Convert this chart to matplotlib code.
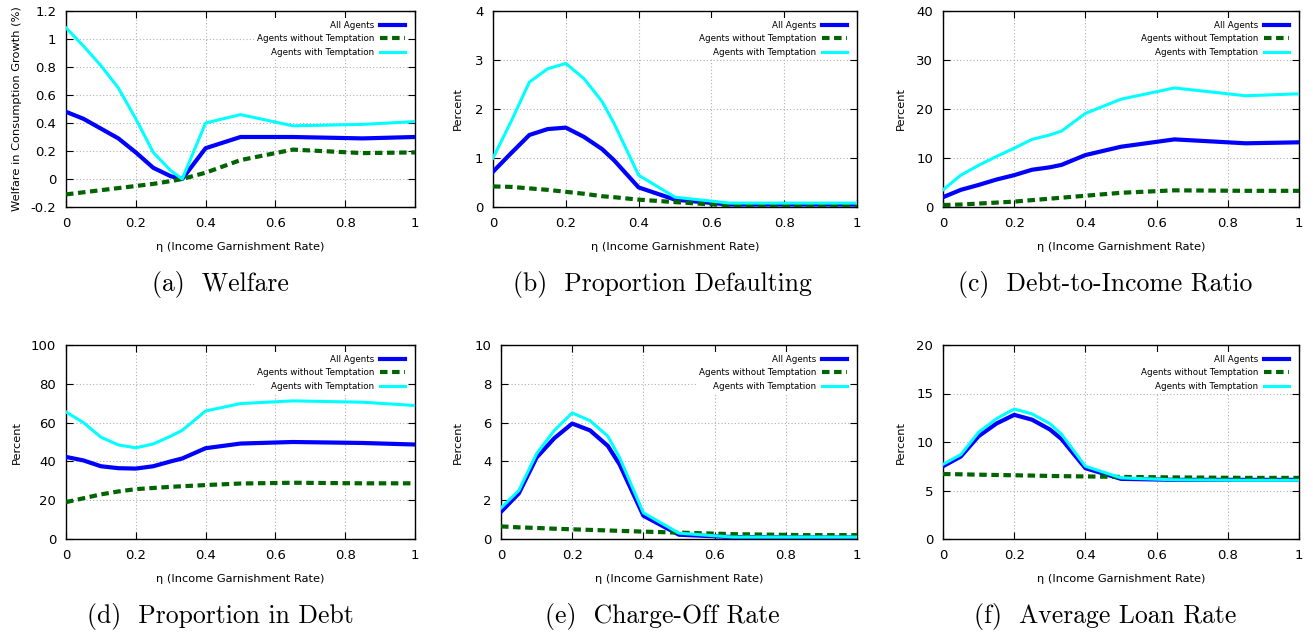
import matplotlib
matplotlib.use("Agg")
import matplotlib.pyplot as plt
from matplotlib.ticker import FormatStrFormatter, MultipleLocator

# garnishment rates on the x axis
eta = [0, 0.05, 0.1, 0.15, 0.2, 0.25, 0.3, 0.333, 0.4, 0.5, 0.65, 0.85, 1.0]

# (a) welfare
welfare_all = [0.48, 0.43, 0.36, 0.29, 0.19, 0.08, 0.02, 0.0, 0.22, 0.30, 0.30, 0.29, 0.30]
welfare_no = [-0.11, -0.095, -0.08, -0.065, -0.05, -0.035, -0.015, 0.0, 0.045, 0.135, 0.21, 0.185, 0.19]
welfare_tempt = [1.08, 0.95, 0.81, 0.65, 0.43, 0.19, 0.06, 0.0, 0.40, 0.46, 0.38, 0.39, 0.41]

# (b) proportion defaulting
default_all = [0.72, 1.1, 1.47, 1.59, 1.62, 1.43, 1.18, 0.95, 0.40, 0.15, 0.05, 0.05, 0.05]
default_no = [0.42, 0.41, 0.38, 0.35, 0.31, 0.27, 0.22, 0.2, 0.15, 0.1, 0.03, 0.03, 0.03]
default_tempt = [1.0, 1.75, 2.55, 2.82, 2.93, 2.62, 2.15, 1.7, 0.65, 0.2, 0.08, 0.08, 0.08]

# (c) debt-to-income ratio
dti_all = [2.0, 3.5, 4.5, 5.6, 6.5, 7.6, 8.1, 8.6, 10.6, 12.3, 13.8, 13.0, 13.2]
dti_no = [0.4, 0.5, 0.7, 0.9, 1.1, 1.4, 1.7, 1.9, 2.3, 2.9, 3.4, 3.3, 3.3]
dti_tempt = [3.5, 6.5, 8.5, 10.3, 12.0, 13.8, 14.7, 15.5, 19.1, 22.0, 24.3, 22.7, 23.1]

# (d) proportion in debt
debt_all = [42.3, 40.5, 37.5, 36.5, 36.3, 37.5, 40.0, 41.5, 46.8, 49.2, 50.0, 49.5, 48.7]
debt_no = [19.0, 21.0, 23.0, 24.5, 25.7, 26.3, 26.9, 27.2, 27.8, 28.6, 29.0, 28.7, 28.7]
debt_tempt = [65.5, 60.0, 52.5, 48.5, 47.0, 49.0, 53.0, 56.0, 66.0, 69.8, 71.2, 70.5, 68.8]

# (e) charge-off rate
co_all = [1.4, 2.35, 4.2, 5.2, 5.95, 5.6, 4.8, 3.85, 1.2, 0.22, 0.1, 0.08, 0.08]
co_no = [0.65, 0.6, 0.57, 0.53, 0.5, 0.47, 0.44, 0.42, 0.38, 0.33, 0.25, 0.2, 0.2]
co_tempt = [1.6, 2.5, 4.4, 5.6, 6.5, 6.1, 5.3, 4.2, 1.35, 0.3, 0.1, 0.1, 0.1]

# (f) average loan rate
rate_all = [7.5, 8.5, 10.6, 11.9, 12.8, 12.3, 11.3, 10.3, 7.3, 6.2, 6.1, 6.1, 6.1]
rate_no = [6.7, 6.67, 6.63, 6.6, 6.57, 6.54, 6.5, 6.48, 6.45, 6.4, 6.35, 6.3, 6.3]
rate_tempt = [7.7, 8.7, 11.0, 12.4, 13.4, 12.9, 11.9, 10.8, 7.5, 6.3, 6.1, 6.05, 6.05]

labels = ["All Agents", "Agents without Temptation", "Agents with Temptation"]

panels = [
    ("(a)  Welfare", "Welfare in Consumption Growth (%)", (-0.2, 1.2), 0.2,
     welfare_all, welfare_no, welfare_tempt),
    ("(b)  Proportion Defaulting", "Percent", (0, 4), 1,
     default_all, default_no, default_tempt),
    ("(c)  Debt-to-Income Ratio", "Percent", (0, 40), 10,
     dti_all, dti_no, dti_tempt),
    ("(d)  Proportion in Debt", "Percent", (0, 100), 20,
     debt_all, debt_no, debt_tempt),
    ("(e)  Charge-Off Rate", "Percent", (0, 10), 2,
     co_all, co_no, co_tempt),
    ("(f)  Average Loan Rate", "Percent", (0, 20), 5,
     rate_all, rate_no, rate_tempt),
]

W, H = 1313, 637
# axes boxes in pixels: left, right, top, bottom
boxes = [
    (66, 415, 11, 207), (493, 857, 11, 207), (943, 1299, 11, 207),
    (66, 415, 345, 539), (501, 857, 345, 539), (943, 1299, 345, 539),
]
ylabel_x = [17, 458, 901, 17, 458, 901]
caption_x = [220, 662, 1105, 220, 662, 1105]
caption_y = [285, 285, 285, 617, 617, 617]

fig = plt.figure(figsize=(W / 100, H / 100), dpi=100)

for i, (cap, ylab, ylim, ystep, y_all, y_no, y_tempt) in enumerate(panels):
    l, r, t, b = boxes[i]
    ax = fig.add_axes([l / W, 1 - b / H, (r - l) / W, (b - t) / H])
    ax.plot(eta, y_all, color="#0000ff", lw=3.0, label=labels[0], zorder=3)
    ax.plot(eta, y_no, color="#006400", lw=3.0, dashes=(1.8, 1.1), label=labels[1], zorder=3)
    ax.plot(eta, y_tempt, color="#00ffff", lw=2.2, label=labels[2], zorder=3)
    ax.set_xlim(0, 1)
    ax.set_ylim(*ylim)
    ax.xaxis.set_major_locator(MultipleLocator(0.2))
    ax.yaxis.set_major_locator(MultipleLocator(ystep))
    ax.xaxis.set_major_formatter(FormatStrFormatter("%g"))
    ax.yaxis.set_major_formatter(FormatStrFormatter("%g"))
    ax.tick_params(direction="in", length=5, width=0.8, top=True, right=True,
                   labelsize=9.5, pad=7)
    ax.grid(True, color="#b0b0b0", linestyle=(0, (1, 2)), linewidth=0.8)
    ax.set_axisbelow(True)
    for s in ax.spines.values():
        s.set_linewidth(1.0)
    ax.set_xlabel("η (Income Garnishment Rate)", fontsize=8.2)
    ax.set_ylabel(ylab, fontsize=8.2)
    ax.xaxis.label.set_va("center")
    ax.yaxis.label.set_va("center")
    ax.xaxis.set_label_coords(0.5, -40 / (b - t))
    ax.yaxis.set_label_coords((ylabel_x[i] - l) / (r - l), 0.5)
    leg = ax.legend(loc="upper right", markerfirst=False, fontsize=6.3, frameon=True,
                    facecolor="white", edgecolor="none", framealpha=1, fancybox=False,
                    handlelength=2.9, handletextpad=0.6, labelspacing=0.5,
                    borderaxespad=0.85, borderpad=0.3)
    leg.set_zorder(2)
    fig.text(caption_x[i] / W, 1 - caption_y[i] / H, cap, ha="center", va="center",
             family="cmr10", fontsize=18.5)

fig.savefig("out.png", dpi=100)
